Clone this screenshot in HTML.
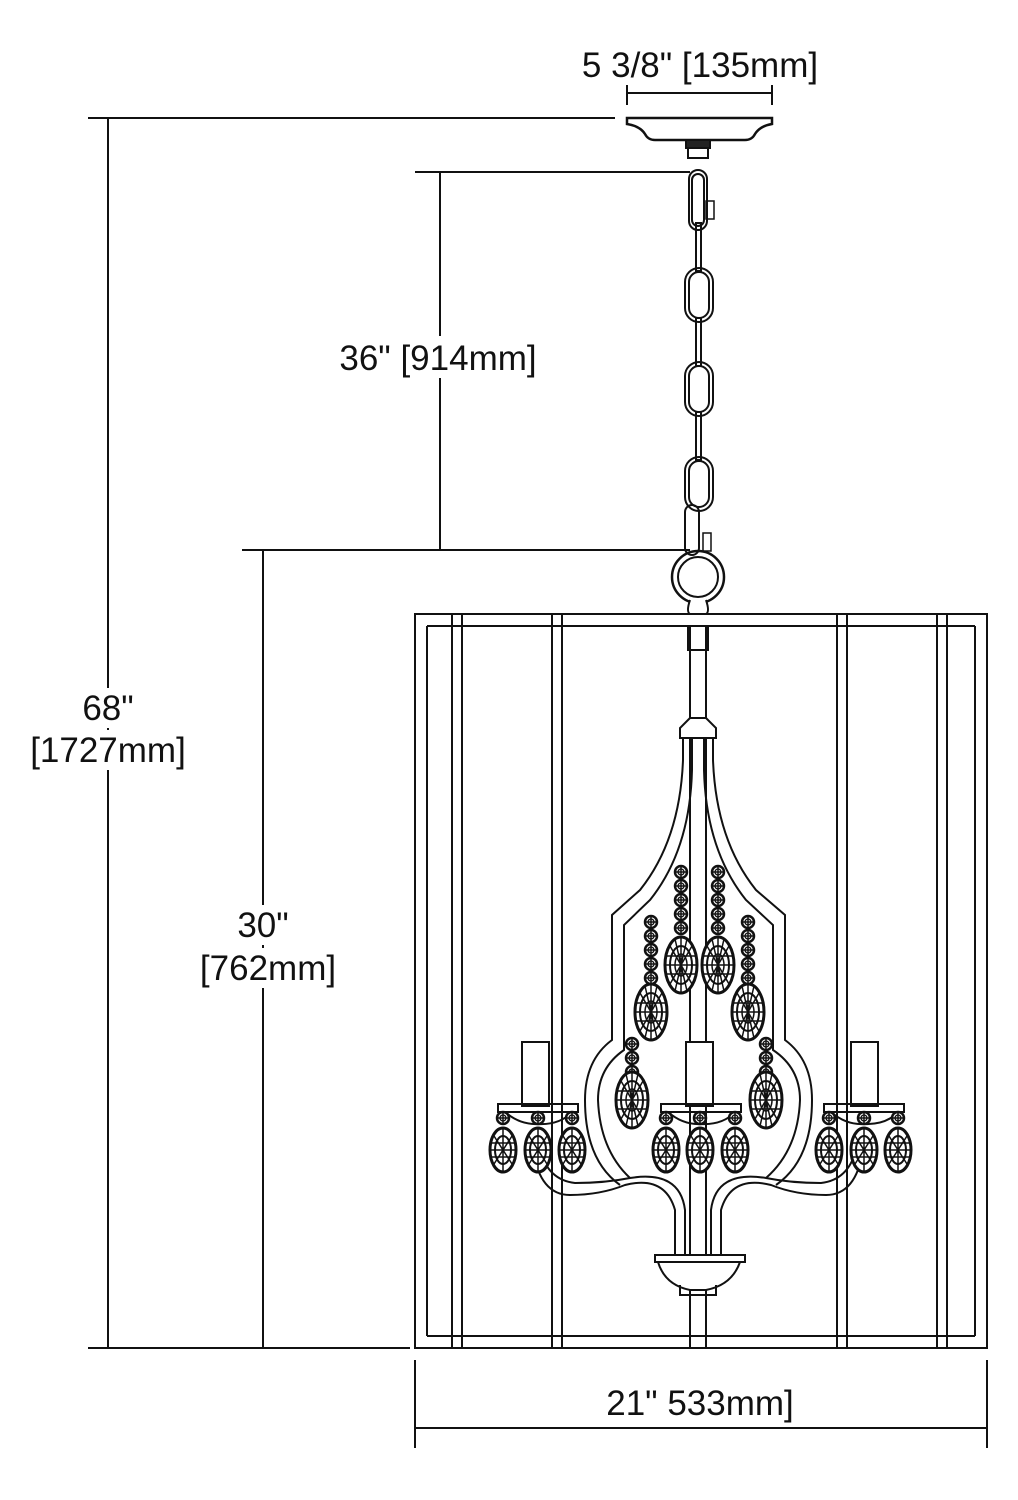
<!DOCTYPE html>
<html><head><meta charset="utf-8"><style>
html,body{margin:0;padding:0;background:#fff}
svg{display:block}
text{font-family:"Liberation Sans",sans-serif;font-size:35px;fill:#111}
</style></head><body>
<svg width="1018" height="1500" viewBox="0 0 1018 1500" xmlns="http://www.w3.org/2000/svg">
<defs>
<g id="drop"><ellipse cx="0" cy="0" rx="16" ry="28" fill="#fff" stroke="#111" stroke-width="3"/><ellipse cx="0" cy="0" rx="11" ry="19" fill="none" stroke="#111" stroke-width="2"/><ellipse cx="0" cy="0" rx="6" ry="11" fill="none" stroke="#111" stroke-width="1.5"/><path d="M-16 0H16M0 -28V28M-11 -19L11 19M11 -19L-11 19M-15 -9H15M-15 9H15M-6 -26L6 26M6 -26L-6 26" stroke="#111" stroke-width="1.5"/></g>
<g id="sdrop"><ellipse cx="0" cy="0" rx="13" ry="22" fill="#fff" stroke="#111" stroke-width="3"/><ellipse cx="0" cy="0" rx="8" ry="14" fill="none" stroke="#111" stroke-width="2"/><path d="M-13 0H13M0 -22V22M-9 -14L9 14M9 -14L-9 14M-12 -7H12M-12 7H12" stroke="#111" stroke-width="1.5"/></g>
<g id="bead"><circle r="6" fill="#fff" stroke="#111" stroke-width="2.5"/><circle r="3" fill="none" stroke="#111" stroke-width="1.3"/><path d="M-6 0H6M0 -6V6" stroke="#111" stroke-width="1.5"/></g>
</defs>
<g stroke="#111" stroke-width="2" fill="none">
<path d="M627 85V105M772 85V105M627 93H772"/>
<path d="M627 118H772V124Q760 126 755 134Q752 140 745 140H655Q648 140 645 134Q640 126 627 124Z" fill="#fff" stroke-width="2.5"/>
<rect x="686" y="140" width="24" height="8" fill="#222"/>
<rect x="688" y="148" width="20" height="10"/>
<path d="M88 118H615M108 118V1348M415 172H690M440 172V550M242 550H690M263 550V1348M88 1348H410"/>
<path d="M415 1360V1448M987 1360V1448M415 1428H987"/>
<g stroke-width="2">
<rect x="689" y="170" width="18" height="60" rx="9"/><rect x="692" y="174" width="12" height="52" rx="6"/>
<rect x="706" y="201" width="8" height="18" stroke-width="1.5"/>
<rect x="696" y="223" width="5" height="48"/>
<rect x="685" y="268" width="28" height="54" rx="14"/><rect x="689" y="272" width="20" height="46" rx="10"/>
<rect x="696" y="318" width="5" height="48"/>
<rect x="685" y="362" width="28" height="54" rx="14"/><rect x="689" y="366" width="20" height="46" rx="10"/>
<rect x="696" y="412" width="5" height="48"/>
<rect x="685" y="457" width="28" height="54" rx="14"/><rect x="689" y="461" width="20" height="46" rx="10"/>
<rect x="685" y="505" width="14" height="50" rx="7"/>
<rect x="703" y="533" width="8" height="18" stroke-width="1.5"/>
<circle cx="698" cy="577" r="26" stroke-width="2.5"/><circle cx="698" cy="577" r="20"/>
<path d="M690 600Q686 612 690 614H706Q710 612 706 600" fill="#fff"/>
</g>
<rect x="415" y="614" width="572" height="734"/>
<path d="M427 626V1336M975 626V1336M427 626H975M427 1336H975"/>
<path d="M452 614V1348M462 614V1348M552 614V1348M562 614V1348M837 614V1348M847 614V1348M937 614V1348M947 614V1348"/>
<path d="M690 626V1348M706 626V1348M688 626V650H708V626"/>
<path d="M690 718L680 728V738H716V728L706 718Z" fill="#fff"/>
<path d="M683 738V760Q680 840 640 890L612 915V1040Q585 1060 585 1100Q585 1160 620 1185"/>
<path d="M692 738V770Q690 850 650 900L624 925V1050Q598 1068 598 1100Q600 1150 630 1178"/>
<path d="M713 738V760Q716 840 756 890L785 915V1040Q812 1060 812 1100Q812 1160 776 1185"/>
<path d="M704 738V770Q706 850 746 900L773 925V1050Q800 1068 800 1100Q798 1150 766 1178"/>
<path d="M533 1150Q540 1195 570 1195Q600 1195 625 1185Q665 1175 675 1210V1255"/>
<path d="M540 1150Q548 1180 575 1183Q605 1183 630 1178Q680 1170 685 1210V1255"/>
<path d="M863 1150Q856 1195 826 1195Q796 1195 771 1185Q731 1175 721 1210V1255"/>
<path d="M856 1150Q848 1180 821 1183Q791 1183 766 1178Q716 1170 711 1210V1255"/>
<path d="M655 1255H745V1262H655ZM658 1262Q665 1285 690 1290H706Q732 1285 740 1262" fill="#fff"/>
<path d="M680 1285V1295H716V1285"/>
<rect x="522" y="1042" width="27" height="64" fill="#fff"/>
<rect x="686" y="1042" width="27" height="64" fill="#fff"/>
<rect x="851" y="1042" width="27" height="64" fill="#fff"/>
<path d="M498 1104H578V1112H498ZM505 1112Q520 1125 538 1124Q560 1125 572 1112"/>
<path d="M661 1104H741V1112H661ZM668 1112Q683 1125 701 1124Q723 1125 735 1112"/>
<path d="M824 1104H904V1112H824ZM831 1112Q846 1125 864 1124Q886 1125 898 1112"/>
</g>
<g>
<use href="#bead" x="681" y="872"/><use href="#bead" x="681" y="886"/><use href="#bead" x="681" y="900"/><use href="#bead" x="681" y="914"/><use href="#bead" x="681" y="928"/>
<use href="#drop" x="681" y="965"/>
<use href="#bead" x="718" y="872"/><use href="#bead" x="718" y="886"/><use href="#bead" x="718" y="900"/><use href="#bead" x="718" y="914"/><use href="#bead" x="718" y="928"/>
<use href="#drop" x="718" y="965"/>
<use href="#bead" x="651" y="922"/><use href="#bead" x="651" y="936"/><use href="#bead" x="651" y="950"/><use href="#bead" x="651" y="964"/><use href="#bead" x="651" y="978"/>
<use href="#drop" x="651" y="1012"/>
<use href="#bead" x="748" y="922"/><use href="#bead" x="748" y="936"/><use href="#bead" x="748" y="950"/><use href="#bead" x="748" y="964"/><use href="#bead" x="748" y="978"/>
<use href="#drop" x="748" y="1012"/>
<use href="#bead" x="632" y="1044"/><use href="#bead" x="632" y="1058"/><use href="#bead" x="632" y="1072"/>
<use href="#drop" x="632" y="1100"/>
<use href="#bead" x="766" y="1044"/><use href="#bead" x="766" y="1058"/><use href="#bead" x="766" y="1072"/>
<use href="#drop" x="766" y="1100"/>
<use href="#bead" x="503" y="1118"/><use href="#sdrop" x="503" y="1150"/>
<use href="#bead" x="538" y="1118"/><use href="#sdrop" x="538" y="1150"/>
<use href="#bead" x="572" y="1118"/><use href="#sdrop" x="572" y="1150"/>
<use href="#bead" x="666" y="1118"/><use href="#sdrop" x="666" y="1150"/>
<use href="#bead" x="700" y="1118"/><use href="#sdrop" x="700" y="1150"/>
<use href="#bead" x="735" y="1118"/><use href="#sdrop" x="735" y="1150"/>
<use href="#bead" x="829" y="1118"/><use href="#sdrop" x="829" y="1150"/>
<use href="#bead" x="864" y="1118"/><use href="#sdrop" x="864" y="1150"/>
<use href="#bead" x="898" y="1118"/><use href="#sdrop" x="898" y="1150"/>
</g>
<g fill="#fff">
<rect x="335" y="336" width="206" height="42"/>
<rect x="78" y="688" width="60" height="40"/>
<rect x="28" y="730" width="162" height="40"/>
<rect x="232" y="905" width="62" height="40"/>
<rect x="198" y="948" width="142" height="40"/>
</g>
<text x="700" y="77" text-anchor="middle">5 3/8" [135mm]</text>
<text x="438" y="370" text-anchor="middle">36" [914mm]</text>
<text x="108" y="720" text-anchor="middle">68"</text>
<text x="108" y="762" text-anchor="middle">[1727mm]</text>
<text x="263" y="937" text-anchor="middle">30"</text>
<text x="268" y="980" text-anchor="middle">[762mm]</text>
<text x="700" y="1415" text-anchor="middle">21" 533mm]</text>
</svg>
</body></html>
